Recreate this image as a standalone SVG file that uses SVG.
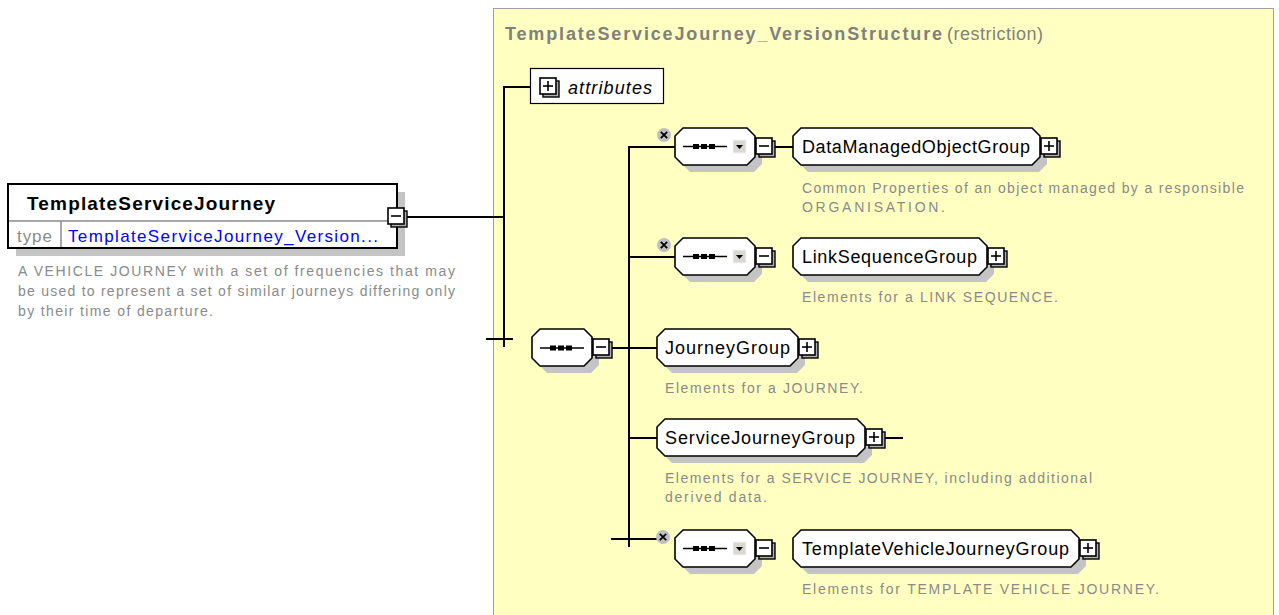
<svg xmlns="http://www.w3.org/2000/svg" width="1279" height="615" viewBox="0 0 1279 615">
<defs>
<style>
.ln{stroke:#000;stroke-width:2;fill:none}
.oct{fill:#fff;stroke:#000;stroke-width:1.6}
.shd{fill:#c4c4c4;stroke:none}
.lbl{font-family:"Liberation Sans",Arial,sans-serif;font-size:18px;fill:#000}
.dsc{font-family:"Liberation Sans",Arial,sans-serif;font-size:14px;fill:#8a8a8a}
.bx{fill:#fff;stroke:#000;stroke-width:1.6}
.bxb{fill:#b0b0b0;stroke:#000;stroke-width:1.4}
.gly{stroke:#000;stroke-width:1.6;fill:none}
</style>
<g id="pm-minus">
<rect class="bxb" x="3" y="3" width="16" height="16"/>
<rect class="bx" x="0" y="0" width="16" height="16"/>
<line class="gly" x1="3" y1="8" x2="13" y2="8"/>
</g>
<g id="pm-plus">
<rect class="bxb" x="3" y="3" width="16" height="16"/>
<rect class="bx" x="0" y="0" width="16" height="16"/>
<line class="gly" x1="3" y1="8" x2="13" y2="8"/>
<line class="gly" x1="8" y1="3" x2="8" y2="13"/>
</g>
<g id="optx">
<circle cx="0" cy="0" r="7" fill="#c0c0c0"/>
<path d="M-3.2,-3.2 L3.2,3.2 M3.2,-3.2 L-3.2,3.2" stroke="#000" stroke-width="1.8"/>
</g>
<g id="seqdots">
<line x1="0" y1="0" x2="44" y2="0" stroke="#000" stroke-width="1.5"/>
<rect x="10" y="-2.5" width="6" height="5" fill="#000"/>
<rect x="18" y="-2.5" width="6" height="5" fill="#000"/>
<rect x="26" y="-2.5" width="6" height="5" fill="#000"/>
</g>
<g id="dropdown">
<rect x="0" y="0" width="13" height="13" fill="#d8d8d0" stroke="#f4f4f4" stroke-width="1"/>
<path d="M3,5 L10,5 L6.5,9 Z" fill="#000"/>
</g>
<g id="choice">
<path class="shd" transform="translate(7,7)" d="M8,0 H72 L80,8 V29 L72,37 H8 L0,29 V8 Z"/>
<path class="oct" d="M8,0 H72 L80,8 V29 L72,37 H8 L0,29 V8 Z"/>
<use href="#seqdots" x="8" y="18.5"/>
<use href="#dropdown" x="58" y="12"/>
</g>
</defs>

<rect width="1279" height="615" fill="#fff"/>

<g id="structure">
<rect x="493.5" y="8.5" width="780" height="620" fill="#ffffc2" stroke="#a0a0a0" stroke-width="1"/>
<text x="505" y="40" font-family="'Liberation Sans',Arial,sans-serif" font-size="18" font-weight="bold" fill="#808080" textLength="437">TemplateServiceJourney_VersionStructure</text>
<text x="947" y="40" font-family="'Liberation Sans',Arial,sans-serif" font-size="18" fill="#808080" textLength="96">(restriction)</text>
</g>

<g id="connectors">
<line class="ln" x1="405" y1="217" x2="504" y2="217"/>
<line class="ln" x1="504" y1="86" x2="504" y2="347"/>
<line class="ln" x1="503" y1="87" x2="530" y2="87"/>
<line class="ln" x1="486" y1="339" x2="513" y2="339"/>
<line class="ln" x1="610" y1="348" x2="657" y2="348"/>
<line class="ln" x1="629" y1="146" x2="629" y2="547"/>
<line class="ln" x1="628" y1="147" x2="675" y2="147"/>
<line class="ln" x1="771" y1="147" x2="793" y2="147"/>
<line class="ln" x1="628" y1="257" x2="675" y2="257"/>
<line class="ln" x1="629" y1="438" x2="657" y2="438"/>
<line class="ln" x1="882" y1="438" x2="903" y2="438"/>
<line class="ln" x1="611" y1="539" x2="657" y2="539"/>
<line class="ln" x1="556" y1="87" x2="567" y2="87"/>
</g>

<g id="TemplateServiceJourney">
<rect class="shd" x="16" y="192" width="389" height="64"/>
<rect x="8" y="184" width="389" height="64" fill="#fff" stroke="#000" stroke-width="2"/>
<line x1="9" y1="221" x2="396" y2="221" stroke="#8a8a8a" stroke-width="1.5"/>
<line x1="61" y1="221" x2="61" y2="247" stroke="#8a8a8a" stroke-width="1.5"/>
<text x="27" y="210" font-family="'Liberation Sans',Arial,sans-serif" font-size="19" font-weight="bold" fill="#000" textLength="248">TemplateServiceJourney</text>
<text x="17" y="242" font-family="'Liberation Sans',Arial,sans-serif" font-size="17" fill="#8a8a8a" textLength="35">type</text>
<text x="68" y="242" font-family="'Liberation Sans',Arial,sans-serif" font-size="17" fill="#0000ff" textLength="310">TemplateServiceJourney_Version...</text>
<use href="#pm-minus" x="388" y="208"/>
<text class="dsc" x="18" y="276" textLength="437">A VEHICLE JOURNEY with a set of frequencies that may</text>
<text class="dsc" x="18" y="296" textLength="437">be used to represent a set of similar journeys differing only</text>
<text class="dsc" x="18" y="316" textLength="195">by their time of departure.</text>
</g>

<g id="attributes">
<rect x="530.5" y="68.5" width="133" height="35" fill="#fff" stroke="#000" stroke-width="1.2"/>
<use href="#pm-plus" x="540" y="78"/>
<text x="568" y="94" font-family="'Liberation Sans',Arial,sans-serif" font-size="18" font-style="italic" fill="#000" textLength="84">attributes</text>
</g>

<g id="sequence">
<path class="shd" transform="translate(7,7)" d="M540,329 H584 L592,337 V358 L584,366 H540 L532,358 V337 Z"/>
<path class="oct" d="M540,329 H584 L592,337 V358 L584,366 H540 L532,358 V337 Z"/>
<use href="#seqdots" x="540" y="348"/>
<use href="#pm-minus" x="593" y="339"/>
</g>

<g id="choice1">
<use href="#choice" x="675" y="128"/>
<use href="#pm-minus" x="756" y="138"/>
<use href="#optx" x="664" y="135"/>
</g>

<g id="DataManagedObjectGroup">
<path class="shd" transform="translate(7,7)" d="M801,128 H1032 L1040,136 V157 L1032,165 H801 L793,157 V136 Z"/>
<path class="oct" d="M801,128 H1032 L1040,136 V157 L1032,165 H801 L793,157 V136 Z"/>
<text class="lbl" x="802" y="153" textLength="228">DataManagedObjectGroup</text>
<use href="#pm-plus" x="1041" y="138"/>
<text class="dsc" x="802" y="193" textLength="442">Common Properties of an object managed by a responsible</text>
<text class="dsc" x="802" y="212" textLength="143">ORGANISATION.</text>
</g>

<g id="choice2">
<use href="#choice" x="675" y="238"/>
<use href="#pm-minus" x="756" y="248"/>
<use href="#optx" x="664" y="245"/>
</g>

<g id="LinkSequenceGroup">
<path class="shd" transform="translate(7,7)" d="M801,238 H979 L987,246 V267 L979,275 H801 L793,267 V246 Z"/>
<path class="oct" d="M801,238 H979 L987,246 V267 L979,275 H801 L793,267 V246 Z"/>
<text class="lbl" x="802" y="263" textLength="175">LinkSequenceGroup</text>
<use href="#pm-plus" x="988" y="248"/>
<text class="dsc" x="802" y="302" textLength="256">Elements for a LINK SEQUENCE.</text>
</g>

<g id="JourneyGroup">
<path class="shd" transform="translate(7,7)" d="M665,329 H790 L798,337 V358 L790,366 H665 L657,358 V337 Z"/>
<path class="oct" d="M665,329 H790 L798,337 V358 L790,366 H665 L657,358 V337 Z"/>
<text class="lbl" x="665" y="354" textLength="125">JourneyGroup</text>
<use href="#pm-plus" x="799" y="339"/>
<text class="dsc" x="665" y="393" textLength="198">Elements for a JOURNEY.</text>
</g>

<g id="ServiceJourneyGroup">
<path class="shd" transform="translate(7,7)" d="M665,419 H857 L865,427 V448 L857,456 H665 L657,448 V427 Z"/>
<path class="oct" d="M665,419 H857 L865,427 V448 L857,456 H665 L657,448 V427 Z"/>
<text class="lbl" x="665" y="444" textLength="190">ServiceJourneyGroup</text>
<use href="#pm-plus" x="866" y="429"/>
<text class="dsc" x="665" y="483" textLength="427">Elements for a SERVICE JOURNEY, including additional</text>
<text class="dsc" x="665" y="502" textLength="102">derived data.</text>
</g>

<g id="choice3">
<use href="#choice" x="675" y="530"/>
<use href="#pm-minus" x="756" y="540"/>
<use href="#optx" x="663" y="537"/>
</g>

<g id="TemplateVehicleJourneyGroup">
<path class="shd" transform="translate(7,7)" d="M801,530 H1071 L1079,538 V559 L1071,567 H801 L793,559 V538 Z"/>
<path class="oct" d="M801,530 H1071 L1079,538 V559 L1071,567 H801 L793,559 V538 Z"/>
<text class="lbl" x="802" y="555" textLength="267">TemplateVehicleJourneyGroup</text>
<use href="#pm-plus" x="1080" y="540"/>
<text class="dsc" x="802" y="594" textLength="357">Elements for TEMPLATE VEHICLE JOURNEY.</text>
</g>
</svg>
